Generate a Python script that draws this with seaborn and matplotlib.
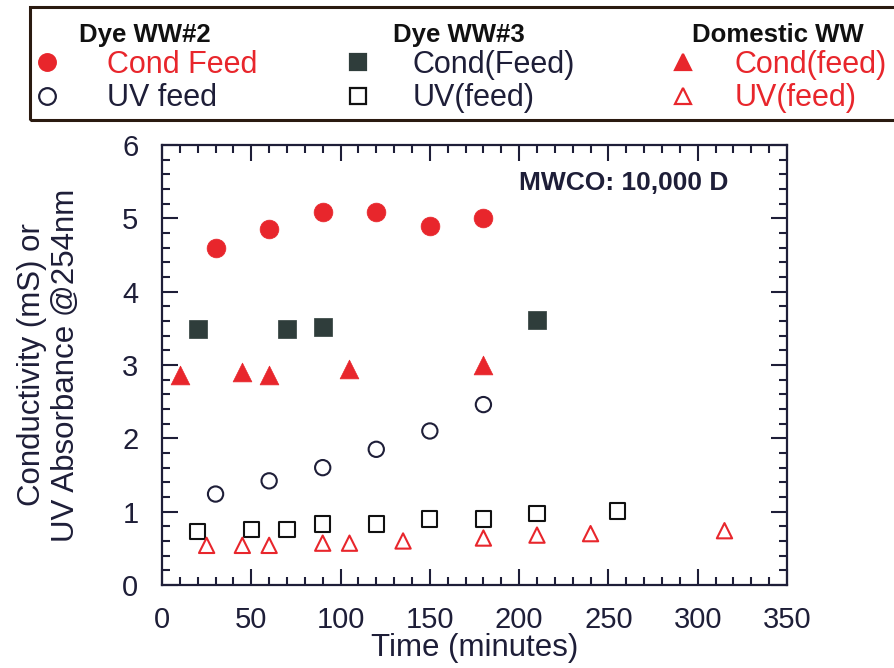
import matplotlib
matplotlib.use("Agg")
import matplotlib.pyplot as plt
from matplotlib.lines import Line2D
from matplotlib.patches import Rectangle
from matplotlib.ticker import MultipleLocator
import seaborn as sns

# ---- data ----
dye2_time = [30, 60, 90, 120, 150, 180]
dye2_cond = [4.60, 4.86, 5.08, 5.08, 4.89, 5.00]
dye2_uv = [1.24, 1.42, 1.60, 1.85, 2.10, 2.46]

dye3_cond_time = [20, 70, 90, 210]
dye3_cond = [3.49, 3.49, 3.52, 3.62]
dye3_uv_time = [20, 50, 70, 90, 120, 150, 180, 210, 255]
dye3_uv = [0.73, 0.76, 0.76, 0.83, 0.83, 0.90, 0.90, 0.97, 1.01]

dom_cond_time = [10, 45, 60, 105, 180]
dom_cond = [2.87, 2.90, 2.86, 2.94, 3.00]
dom_uv_time = [25, 45, 60, 90, 105, 135, 180, 210, 240, 315]
dom_uv = [0.54, 0.54, 0.54, 0.57, 0.57, 0.60, 0.64, 0.68, 0.70, 0.74]

x_ticks = [0, 50, 100, 150, 200, 250, 300, 350]
y_ticks = [0, 1, 2, 3, 4, 5, 6]

RED = "#e8262c"
DARK = "#1e1e38"
SQ = "#2f3d3b"

sns.set_style("ticks")
plt.rcParams["font.family"] = ["Liberation Sans", "DejaVu Sans"]

fig = plt.figure(figsize=(8.94, 6.68), dpi=100)
ax = fig.add_axes([0.1812, 0.1243, 0.6991, 0.6586])

S_FILL = 13.5 ** 2
S_OPEN = 11 ** 2
LW = 1.5

sns.scatterplot(x=dye2_time, y=dye2_cond, ax=ax, marker="o", s=S_FILL,
                color=RED, edgecolor=RED, linewidth=0.5, zorder=3)
sns.scatterplot(x=dye2_time, y=dye2_uv, ax=ax, marker="o", s=S_OPEN,
                facecolor="none", edgecolor=DARK, linewidth=LW, zorder=3)
sns.scatterplot(x=dye3_cond_time, y=dye3_cond, ax=ax, marker="s", s=S_FILL,
                color=SQ, edgecolor=SQ, linewidth=0.5, zorder=3)
sns.scatterplot(x=dye3_uv_time, y=dye3_uv, ax=ax, marker="s", s=S_OPEN,
                facecolor="none", edgecolor="#111111", linewidth=LW, zorder=3)
sns.scatterplot(x=dom_cond_time, y=dom_cond, ax=ax, marker="^", s=S_FILL,
                color=RED, edgecolor=RED, linewidth=0.5, zorder=3)
sns.scatterplot(x=dom_uv_time, y=dom_uv, ax=ax, marker="^", s=S_OPEN,
                facecolor="none", edgecolor=RED, linewidth=LW, zorder=3)

ax.set_xlim(0, 350)
ax.set_ylim(0, 6)
ax.set_xticks(x_ticks)
ax.set_yticks(y_ticks)
ax.xaxis.set_minor_locator(MultipleLocator(10))
ax.yaxis.set_minor_locator(MultipleLocator(0.2))
ax.tick_params(which="both", direction="in", top=True, right=True,
               color=DARK, width=1.5)
ax.tick_params(which="major", length=11.5, labelsize=21, labelcolor=DARK)
ax.tick_params(which="minor", length=5.8)
ax.tick_params(axis="x", which="major", pad=15)
ax.tick_params(axis="y", which="major", pad=17)
for sp in ax.spines.values():
    sp.set_color(DARK)
    sp.set_linewidth(1.6)

ax.set_xlabel("Time (minutes)", fontsize=22.5, color=DARK)
ax.xaxis.set_label_coords(0.5, -0.11)
ax.set_ylabel("Conductivity (mS) or\nUV Absorbance @254nm", fontsize=22.5,
              color=DARK, linespacing=1.18, multialignment="center")
ax.yaxis.set_label_coords(-0.13, 0.5)

ax.text(0.571, 0.914, "MWCO: 10,000 D", transform=ax.transAxes,
        fontsize=19, fontweight="bold", color=DARK, va="center", ha="left")

# ---- legend box with three grouped columns ----
groups = [
    ("Dye WW#2",
     [("o", RED, RED, "Cond Feed", RED), ("o", "none", DARK, "UV feed", DARK)],
     0.0355, 1.46),
    ("Dye WW#3",
     [("s", SQ, SQ, "Cond(Feed)", DARK), ("s", "none", "#111111", "UV(feed)", DARK)],
     0.3833, 1.30),
    ("Domestic WW",
     [("^", RED, RED, "Cond(feed)", RED), ("^", "none", RED, "UV(feed)", RED)],
     0.7469, 1.20),
]
for title, entries, x0, tpad in groups:
    handles, labels = [], []
    for mk, fc, ec, lab, tc in entries:
        handles.append(Line2D([], [], linestyle="none", marker=mk, markersize=12,
                              markerfacecolor=fc, markeredgecolor=ec,
                              markeredgewidth=1.6))
        labels.append(lab)
    leg = fig.legend(handles, labels, loc="upper left",
                     bbox_to_anchor=(x0, 0.966), frameon=False, fontsize=22,
                     handlelength=1.0, handletextpad=tpad, labelspacing=0.11,
                     borderpad=0.0, borderaxespad=0.0,
                     title=title, title_fontproperties={"weight": "bold",
                                                        "size": 18.5})
    leg.get_title().set_color("#111111")
    for txt, (_, _, _, _, tc) in zip(leg.get_texts(), entries):
        txt.set_color(tc)

fig.patches.append(Rectangle((30 / 894, 1 - 120 / 668), 1.05 - 30 / 894,
                             113 / 668, transform=fig.transFigure,
                             fill=False, edgecolor="#2a1a10", linewidth=2.2))

fig.savefig("out.png", dpi=100)
